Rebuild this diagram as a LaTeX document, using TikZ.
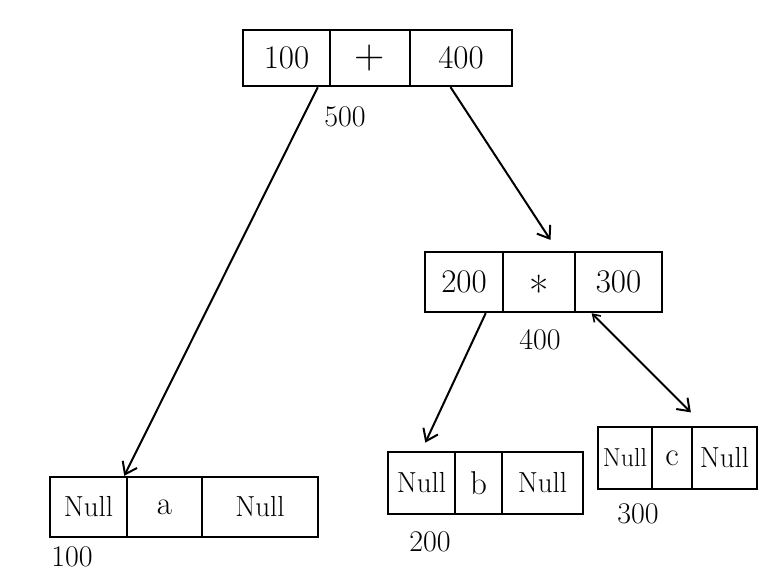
\documentclass[tikz,border=0pt]{standalone}
\usepackage{fontspec}
\usetikzlibrary{arrows.meta,calc}
\begin{document}
\begin{tikzpicture}[x=1pt,y=-1pt,
  cell/.style={draw,line width=2.4pt,inner sep=0pt,font=\fontsize{33}{35}\selectfont},
  nulltxt/.style={font=\fontsize{29}{31}\selectfont},
  smallnull/.style={font=\fontsize{26}{28}\selectfont},
  optxt/.style={font=\fontsize{42}{44}\selectfont},
  lbl/.style={font=\fontsize{30}{32}\selectfont,inner sep=0pt},
  link/.style={line width=2pt,-{Straight Barb[length=11pt,width=16pt,line width=2pt]}}]
\useasboundingbox (0,0) rectangle (766,577);
% top record (500)
\node[cell,minimum width=87pt,minimum height=56pt] (t1) at (286.5,58) {100};
\node[cell,optxt,minimum width=80pt,minimum height=56pt] (t2) at (370,58) {+};
\node[cell,minimum width=102pt,minimum height=56pt] (t3) at (461,58) {400};
\node[lbl] (n500) at (345,117) {500};
% middle record (400)
\node[cell,optxt,minimum width=72pt,minimum height=60pt] (m2) at (539,282) {\raisebox{-0.58em}[0pt][0pt]{*}};
\node[cell,minimum width=78pt,minimum height=60pt] (m1) at (464,282) {200};
\node[cell,minimum width=87pt,minimum height=60pt] (m3) at (618.5,282) {300};
\node[lbl] (n400) at (540,340) {400};
% left record (100)
\node[cell,nulltxt,minimum width=77pt,minimum height=60pt] (l1) at (88.5,507) {Null};
\node[cell,minimum width=75pt,minimum height=60pt] (l2) at (164.5,507) {a};
\node[cell,nulltxt,minimum width=116pt,minimum height=60pt] (l3) at (260,507) {Null};
\node[lbl] (n100) at (72,557) {100};
% b record (200)
\node[cell,nulltxt,minimum width=67pt,minimum height=62pt] (b1) at (421.5,483) {Null};
\node[cell,minimum width=47pt,minimum height=62pt] (b2) at (478.5,483) {b};
\node[cell,nulltxt,minimum width=81pt,minimum height=62pt] (b3) at (542.5,483) {Null};
\node[lbl] (n200) at (430,542) {200};
% c record (300)
\node[cell,smallnull,minimum width=54pt,minimum height=62pt] (c1) at (625,458) {Null};
\node[cell,minimum width=40pt,minimum height=62pt] (c2) at (672,458) {c};
\node[cell,nulltxt,minimum width=65pt,minimum height=62pt] (c3) at (724.5,458) {Null};
\node[lbl] (n300) at (638,514) {300};
% links
\draw[link] ($(t1.south west)!0.85!(t1.south east)$) -- ($(l1.north west)!0.95!(l1.north east)$);
\draw[link,shorten >=13pt] ($(t3.south west)!0.4!(t3.south east)$) -- ($(m2.north)!0.5!(m2.north east)$);
\draw[link,shorten >=9pt] ($(m1.south west)!0.77!(m1.south east)$) -- (b1.north);
\draw[link,shorten >=19pt,{Straight Barb[length=7pt,width=9pt,line width=1.6pt]}-{Straight Barb[length=11pt,width=16pt,line width=2pt]}] ($(m3.south west)!0.2!(m3.south east)$) -- ($(c3.north west)!0.2!(c3.north east)$);
\end{tikzpicture}
\end{document}
